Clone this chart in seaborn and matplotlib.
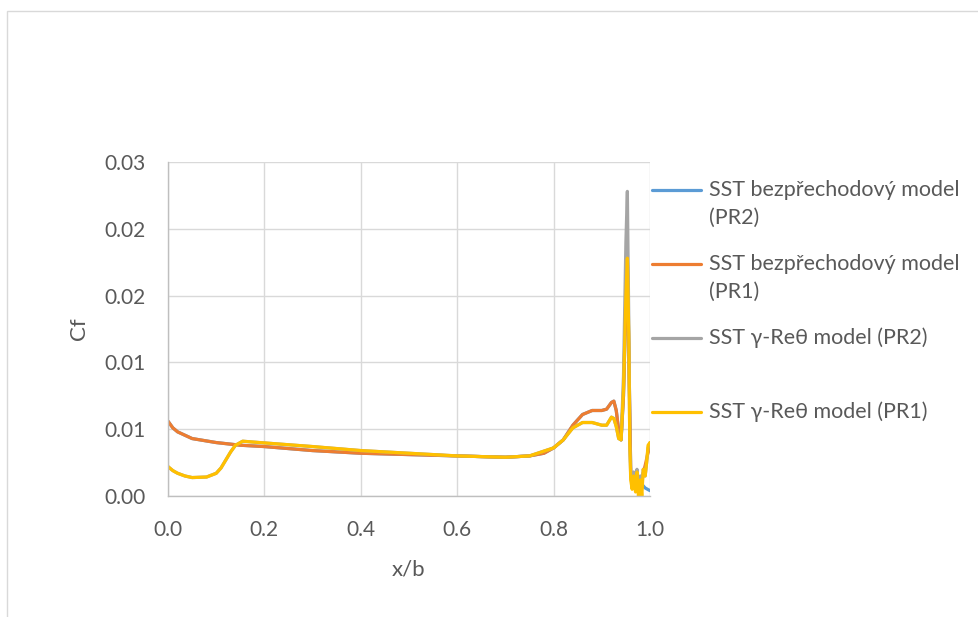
import numpy as np
import pandas as pd
import matplotlib
matplotlib.use("Agg")
import matplotlib.pyplot as plt
from matplotlib.lines import Line2D
from matplotlib.patches import Rectangle
import seaborn as sns

# DATA
x_pr1_sst = [0.0, 0.01, 0.02, 0.05, 0.1, 0.15, 0.2, 0.3, 0.4, 0.5, 0.6, 0.7, 0.75, 0.78,
             0.8, 0.82, 0.84, 0.86, 0.88, 0.9, 0.91, 0.92, 0.925, 0.93, 0.935, 0.94, 0.945,
             0.95, 0.953, 0.956, 0.96, 0.965, 0.97, 0.975, 0.98, 0.985, 0.99, 0.995, 1.0]
cf_pr1_sst = [0.0056, 0.0051, 0.0048, 0.0043, 0.0040, 0.0038, 0.0037, 0.0034, 0.0032, 0.0031,
              0.0030, 0.0029, 0.0030, 0.0032, 0.0036, 0.0042, 0.0053, 0.0061, 0.0064, 0.0064,
              0.0065, 0.0070, 0.0071, 0.0064, 0.0049, 0.0042, 0.0075, 0.0147, 0.0178, 0.0110,
              0.0019, 0.0008, 0.0012, 0.0005, 0.0011, 0.0016, 0.0023, 0.0031, 0.0037]
x_pr2_sst = x_pr1_sst
cf_pr2_sst = [0.0056, 0.0051, 0.0048, 0.0043, 0.0040, 0.0038, 0.0037, 0.0034, 0.0032, 0.0031,
              0.0030, 0.0029, 0.0030, 0.0032, 0.0036, 0.0042, 0.0053, 0.0061, 0.0064, 0.0064,
              0.0065, 0.0070, 0.0071, 0.0064, 0.0049, 0.0042, 0.0075, 0.0147, 0.0178, 0.0110,
              0.0019, 0.0008, 0.0012, 0.0005, 0.0011, 0.0008, 0.0006, 0.0005, 0.0004]

x_pr1_gam = [0.0, 0.01, 0.02, 0.035, 0.05, 0.08, 0.1, 0.11, 0.12, 0.13, 0.14, 0.155, 0.19,
             0.3, 0.4, 0.5, 0.6, 0.7, 0.75, 0.8, 0.82, 0.84, 0.86, 0.88, 0.9, 0.91, 0.92,
             0.925, 0.93, 0.935, 0.94, 0.945, 0.95, 0.953, 0.956, 0.958, 0.96, 0.963, 0.966,
             0.97, 0.973, 0.976, 0.98, 0.983, 0.986, 0.99, 0.993, 0.996, 1.0]
cf_pr1_gam = [0.0022, 0.0019, 0.0017, 0.0015, 0.00138, 0.00142, 0.0017, 0.0021, 0.0027, 0.0033,
              0.0038, 0.0041, 0.0040, 0.0037, 0.0034, 0.0032, 0.0030, 0.0029, 0.0030, 0.0036,
              0.0042, 0.0051, 0.0055, 0.0055, 0.0053, 0.0053, 0.0059, 0.0058, 0.0052, 0.0043,
              0.0042, 0.0080, 0.0150, 0.0178, 0.0120, 0.0040, 0.0012, 0.0005, 0.0015, 0.0003,
              0.0018, 0.0000, 0.0012, 0.0000, 0.0020, 0.0015, 0.0025, 0.0038, 0.0040]
x_pr2_gam = x_pr1_gam
cf_pr2_gam = [0.0022, 0.0019, 0.0017, 0.0015, 0.00138, 0.00142, 0.0017, 0.0021, 0.0027, 0.0033,
              0.0038, 0.0041, 0.0040, 0.0037, 0.0034, 0.0032, 0.0030, 0.0029, 0.0030, 0.0036,
              0.0042, 0.0051, 0.0055, 0.0055, 0.0053, 0.0053, 0.0059, 0.0058, 0.0052, 0.0043,
              0.0042, 0.0090, 0.0190, 0.0228, 0.0130, 0.0040, 0.0015, 0.0008, 0.0018, 0.0010,
              0.0020, 0.0008, 0.0015, 0.0006, 0.0020, 0.0015, 0.0025, 0.0036, 0.0040]

labels = ["SST bezpřechodový model\n(PR2)", "SST bezpřechodový model\n(PR1)",
          "SST γ-Reθ model (PR2)", "SST γ-Reθ model (PR1)"]
colors = ["#5B9BD5", "#ED7D31", "#A5A5A5", "#FFC000"]
xticks = [0.0, 0.2, 0.4, 0.6, 0.8, 1.0]
yticks = [0.0, 0.005, 0.01, 0.015, 0.02, 0.025]
ytick_labels = ["0.00", "0.01", "0.01", "0.02", "0.02", "0.03"]

frames = []
for lab, xs, ys in zip(labels,
                       [x_pr2_sst, x_pr1_sst, x_pr2_gam, x_pr1_gam],
                       [cf_pr2_sst, cf_pr1_sst, cf_pr2_gam, cf_pr1_gam]):
    frames.append(pd.DataFrame({"x": xs, "cf": ys, "series": lab}))
df = pd.concat(frames, ignore_index=True)

sns.set_style("white")
plt.rcParams["font.family"] = ["Lato", "DejaVu Sans"]
txt = "#595959"

fig = plt.figure(figsize=(9.79, 6.17), dpi=100)
ax = fig.add_axes([168 / 979, 1 - 496 / 617, (650 - 168) / 979, (496 - 162) / 617])

sns.lineplot(data=df, x="x", y="cf", hue="series", hue_order=labels,
             palette=dict(zip(labels, colors)), sort=False, estimator=None,
             linewidth=2.3, legend=False, ax=ax)

ax.set_xlim(0, 1)
ax.set_ylim(0, 0.025)
ax.set_xticks(xticks)
ax.set_xticklabels([f"{t:.1f}" for t in xticks])
ax.set_yticks(yticks)
ax.set_yticklabels(ytick_labels)
ax.tick_params(length=0, labelsize=15, labelcolor=txt)
ax.tick_params(axis="y", pad=16)
ax.tick_params(axis="x", pad=17)
ax.grid(True, color="#d9d9d9", lw=1)
ax.set_axisbelow(True)
for s in ["top", "right"]:
    ax.spines[s].set_visible(False)
for s in ["left", "bottom"]:
    ax.spines[s].set_color("#bfbfbf")
    ax.spines[s].set_linewidth(1)
ax.set_xlabel("x/b", fontsize=16, color=txt, labelpad=14)
ax.set_ylabel("Cf", fontsize=16, color=txt, labelpad=11)

# legend drawn by hand to keep Excel's layout
leg_y = [190, 264, 338, 412]
for lab, col, yy in zip(labels, colors, leg_y):
    yf = 1 - yy / 617
    fig.add_artist(Line2D([652 / 979, 701 / 979], [yf, yf], color=col, lw=2.3))
    for i, part in enumerate(lab.split("\n")):
        fig.text(709 / 979, 1 - (yy + 28 * i) / 617, part, fontsize=15.5, color=txt,
                 va="center", ha="left")

# chart area border
fig.add_artist(Rectangle((7 / 979, -0.1), 1.1, 1.1 - 11 / 617,
                         transform=fig.transFigure, fill=False, ec="#d9d9d9", lw=1))

fig.savefig("out.png", dpi=100)
